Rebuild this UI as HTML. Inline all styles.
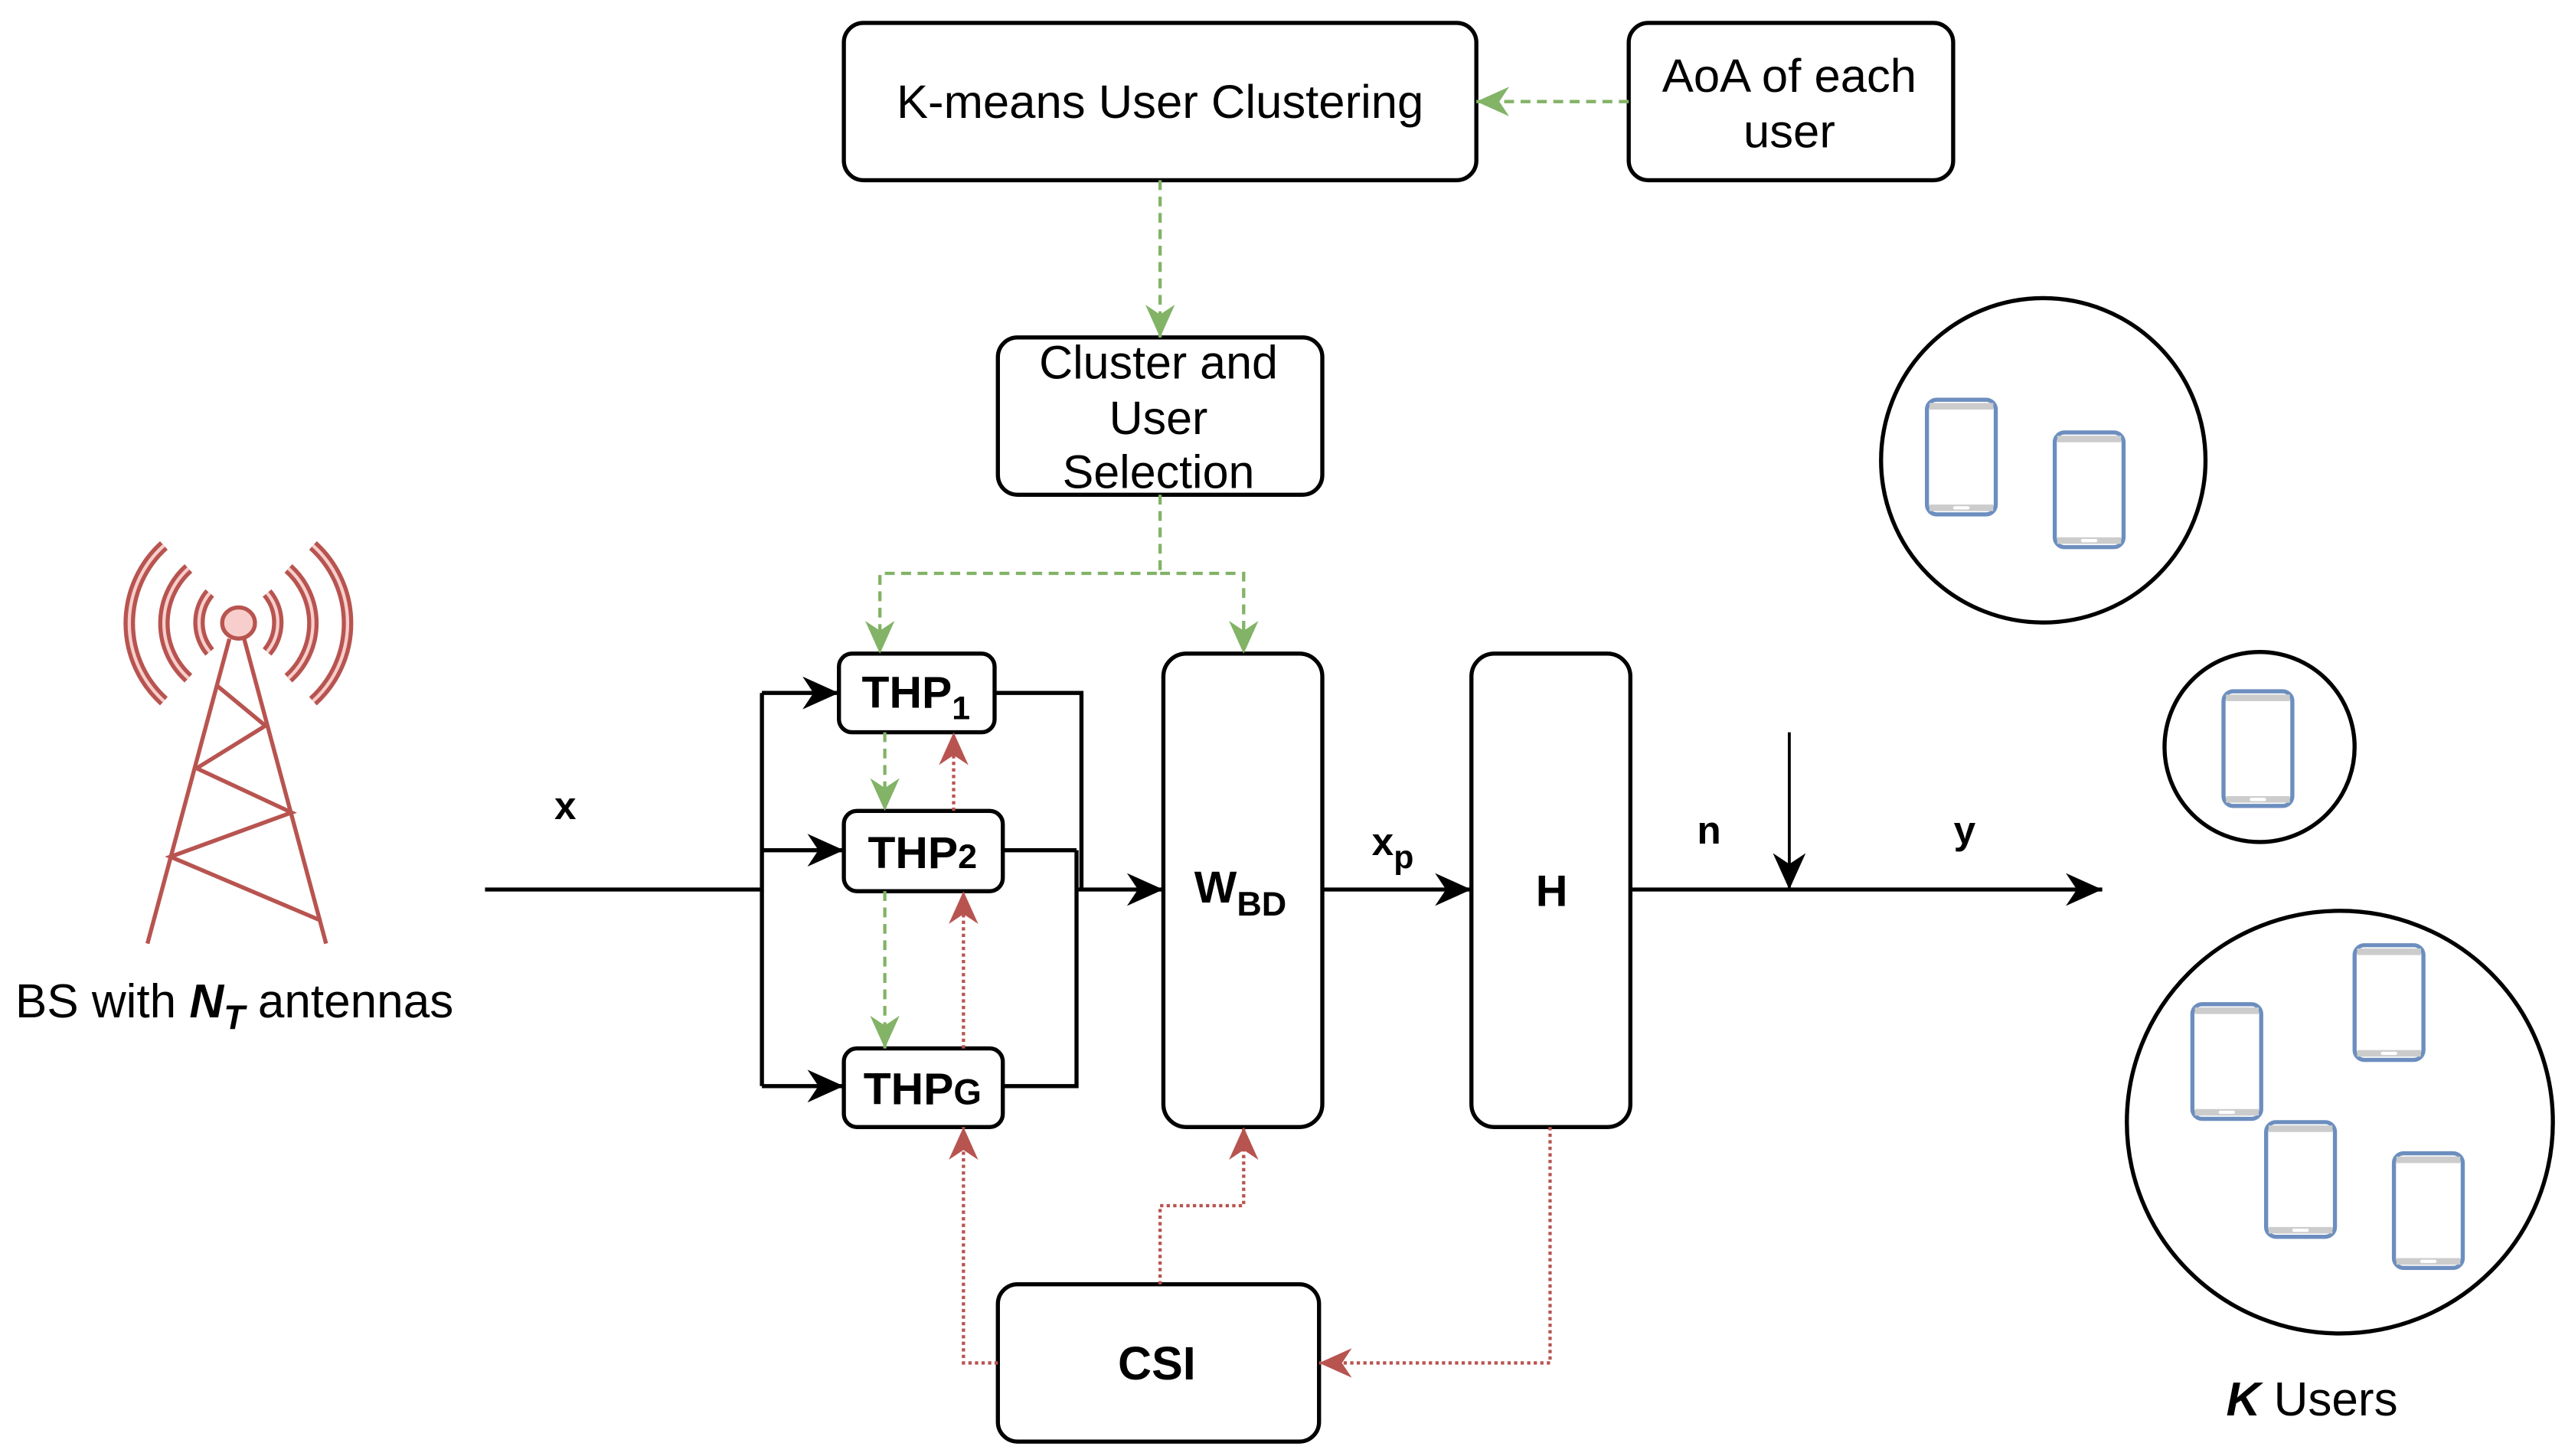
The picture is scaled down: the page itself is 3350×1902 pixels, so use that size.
<!DOCTYPE html>
<html><head><meta charset="utf-8"><style>
html,body{margin:0;padding:0;background:#fff;}
svg{display:block;}
text{font-family:"Liberation Sans",Arial,sans-serif;}
</style></head><body>
<svg width="3350" height="1902" viewBox="0 0 1565.4 888.8" preserveAspectRatio="none" xmlns="http://www.w3.org/2000/svg">
<defs>
<marker id="ab" viewBox="0 0 20 18" refX="20" refY="9" markerWidth="23" markerHeight="20" markerUnits="userSpaceOnUse" orient="auto"><path d="M0,0 L20,9 L0,18 L6,9 z" fill="#000"/></marker>
<marker id="ag" viewBox="0 0 20 18" refX="20" refY="9" markerWidth="20" markerHeight="18" markerUnits="userSpaceOnUse" orient="auto"><path d="M0,0 L20,9 L0,18 L6,9 z" fill="#82b366"/></marker>
<marker id="ar" viewBox="0 0 20 18" refX="20" refY="9" markerWidth="20" markerHeight="18" markerUnits="userSpaceOnUse" orient="auto"><path d="M0,0 L20,9 L0,18 L6,9 z" fill="#b85450"/></marker>
<g id="phone">
<rect x="1" y="1" width="42" height="70" rx="6" fill="#fff" stroke="#6c8ebf" stroke-width="2.5"/>
<rect x="2.5" y="3" width="39" height="4" fill="#cccccc"/>
<rect x="2.5" y="65" width="39" height="4" fill="#cccccc"/>
<rect x="17" y="66" width="10" height="2" rx="1" fill="#fff"/>
</g>
</defs>

<g fill="none" stroke="#000" stroke-width="2.5">
<rect x="515" y="14" width="386" height="96" rx="12" fill="#fff"/>
<rect x="994" y="14" width="198" height="96" rx="12" fill="#fff"/>
<rect x="609" y="206" width="198" height="96" rx="12" fill="#fff"/>
<rect x="512" y="399" width="95" height="48" rx="8" fill="#fff"/>
<rect x="515" y="495" width="97" height="49" rx="8" fill="#fff"/>
<rect x="515" y="640" width="97" height="48" rx="8" fill="#fff"/>
<rect x="710" y="399" width="97" height="289" rx="14" fill="#fff"/>
<rect x="898" y="399" width="97" height="289" rx="14" fill="#fff"/>
<rect x="609" y="784" width="196" height="96" rx="12" fill="#fff"/>

<path d="M296,543 H465"/>
<path d="M465,423 V663"/>
<path d="M465,423 H512" marker-end="url(#ab)"/>
<path d="M465,519 H515" marker-end="url(#ab)"/>
<path d="M465,663 H515" marker-end="url(#ab)"/>
<path d="M607,423 H660 V543"/>
<path d="M612,519 H657"/>
<path d="M612,663 H657 V519"/>
<path d="M657,543 H710" marker-end="url(#ab)"/>
<path d="M807,543 H898" marker-end="url(#ab)"/>
<path d="M995,543 H1283" marker-end="url(#ab)"/>
<path d="M1092,447 V543" stroke-width="1.8" marker-end="url(#ab)"/>

<circle cx="1247" cy="281" r="99"/>
<ellipse cx="1379" cy="456" rx="58" ry="58"/>
<ellipse cx="1428" cy="685" rx="130" ry="129"/>
</g>

<g fill="none" stroke="#82b366" stroke-width="2" stroke-dasharray="6,4">
<path d="M994,62 H901" marker-end="url(#ag)"/>
<path d="M708,110 V206" marker-end="url(#ag)"/>
<path d="M708,302 V350 H537 V399" marker-end="url(#ag)"/>
<path d="M708,350 H759 V399" marker-end="url(#ag)"/>
<path d="M540,447 V495" marker-end="url(#ag)"/>
<path d="M540,544 V640" marker-end="url(#ag)"/>
</g>
<g fill="none" stroke="#b85450" stroke-width="2" stroke-dasharray="2,2">
<path d="M582,495 V447" marker-end="url(#ar)"/>
<path d="M588,640 V544" marker-end="url(#ar)"/>
<path d="M609,832 H588 V688" marker-end="url(#ar)"/>
<path d="M708,784 V736 H759 V688" marker-end="url(#ar)"/>
<path d="M946,688 V832 H805" marker-end="url(#ar)"/>
</g>

<use href="#phone" x="1175" y="243"/>
<use href="#phone" x="1253" y="263"/>
<use href="#phone" x="1356" y="421"/>
<use href="#phone" x="1337" y="612"/>
<use href="#phone" x="1436" y="576"/>
<use href="#phone" x="1382" y="684"/>
<use href="#phone" x="1460" y="703"/>

<g fill="none" stroke="#b85450" stroke-linecap="butt">
<g stroke-width="2.5">
<path d="M140,390 L90,576 M149,390 L199,576"/>
<path d="M133,419 L162,443 L120,469 L178,496 L104,523 L196,562"/>
</g>
<g stroke-width="7">
<path d="M128,362 A28,28 0 0 0 128,398 M163,362 A28,28 0 0 1 163,398"/>
<path d="M115,347 A45,45 0 0 0 115,414 M176,347 A45,45 0 0 1 176,414"/>
<path d="M100,333 A64,64 0 0 0 100,428 M191,333 A64,64 0 0 1 191,428"/>
</g>
<g stroke-width="2" stroke="#f8cecc">
<path d="M128,362 A28,28 0 0 0 128,398 M163,362 A28,28 0 0 1 163,398"/>
<path d="M115,347 A45,45 0 0 0 115,414 M176,347 A45,45 0 0 1 176,414"/>
<path d="M100,333 A64,64 0 0 0 100,428 M191,333 A64,64 0 0 1 191,428"/>
</g>
<ellipse cx="145.6" cy="380.3" rx="10" ry="9.5" fill="#f8cecc" stroke-width="2.5"/>
</g>

<g fill="#000" text-anchor="middle">
<text x="708" y="72" font-size="28.8">K-means User Clustering</text>
<text x="1092" y="56" font-size="28.8">AoA of each</text>
<text x="1092" y="90" font-size="28.8">user</text>
<text x="707" y="231" font-size="28.5">Cluster and</text>
<text x="707" y="265" font-size="28.5">User</text>
<text x="707" y="298" font-size="28.5">Selection</text>
<text x="559" y="432" font-size="27.5" font-weight="bold">THP<tspan font-size="20" dy="7">1</tspan></text>
<text x="563" y="530" font-size="27.5" font-weight="bold">THP<tspan font-size="21">2</tspan></text>
<text x="563" y="674" font-size="27.5" font-weight="bold">THP<tspan font-size="22">G</tspan></text>
<text x="757" y="551" font-size="27.5" font-weight="bold">W<tspan font-size="21" dy="8">BD</tspan></text>
<text x="947" y="553" font-size="27" font-weight="bold">H</text>
<text x="706" y="842" font-size="28.5" font-weight="bold">CSI</text>
<text x="345" y="500" font-size="24" font-weight="bold">x</text>
<text x="850" y="522" font-size="24" font-weight="bold">x<tspan font-size="20" dy="8">p</tspan></text>
<text x="1043" y="515" font-size="24" font-weight="bold">n</text>
<text x="1199" y="515" font-size="24" font-weight="bold">y</text>
<text x="143" y="621" font-size="29">BS with <tspan font-weight="bold" font-style="italic">N<tspan font-size="21" dy="7">T</tspan></tspan><tspan dy="-7"> antennas</tspan></text>
<text x="1411" y="864" font-size="29"><tspan font-weight="bold" font-style="italic">K</tspan> Users</text>
</g>
</svg>
</body></html>
